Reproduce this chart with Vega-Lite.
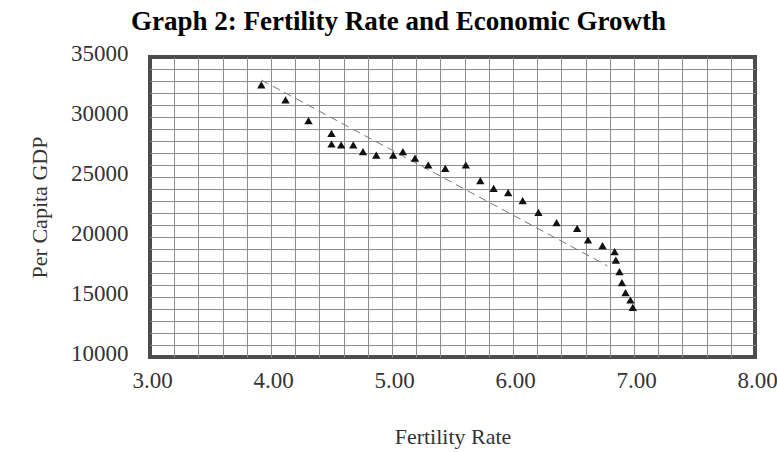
{
  "$schema": "https://vega.github.io/schema/vega-lite/v6.json",
  "width": 605,
  "height": 300,
  "autosize": {"type": "none"},
  "padding": {"left": 150, "top": 57, "right": 22, "bottom": 95},
  "background": "white",
  "title": {
    "text": "Graph 2:  Fertility Rate and Economic Growth",
    "font": "Liberation Serif",
    "fontSize": 27,
    "fontWeight": "bold",
    "color": "#000000",
    "anchor": "middle",
    "dx": -54,
    "offset": 6
  },
  "data": {
    "values": [
      {"kind": "trend", "fertility": 3.92, "gdp": 33080},
      {"kind": "trend", "fertility": 6.78, "gdp": 17600},
      {"kind": "obs", "fertility": 3.92, "gdp": 32670},
      {"kind": "obs", "fertility": 4.12, "gdp": 31420},
      {"kind": "obs", "fertility": 4.31, "gdp": 29690},
      {"kind": "obs", "fertility": 4.50, "gdp": 28640},
      {"kind": "obs", "fertility": 4.50, "gdp": 27750},
      {"kind": "obs", "fertility": 4.58, "gdp": 27670},
      {"kind": "obs", "fertility": 4.68, "gdp": 27670},
      {"kind": "obs", "fertility": 4.76, "gdp": 27110},
      {"kind": "obs", "fertility": 4.87, "gdp": 26830},
      {"kind": "obs", "fertility": 5.01, "gdp": 26830},
      {"kind": "obs", "fertility": 5.09, "gdp": 27110},
      {"kind": "obs", "fertility": 5.19, "gdp": 26580},
      {"kind": "obs", "fertility": 5.30, "gdp": 26000},
      {"kind": "obs", "fertility": 5.44, "gdp": 25720},
      {"kind": "obs", "fertility": 5.61, "gdp": 26000},
      {"kind": "obs", "fertility": 5.73, "gdp": 24690},
      {"kind": "obs", "fertility": 5.84, "gdp": 24060},
      {"kind": "obs", "fertility": 5.96, "gdp": 23690},
      {"kind": "obs", "fertility": 6.08, "gdp": 23030},
      {"kind": "obs", "fertility": 6.21, "gdp": 22060},
      {"kind": "obs", "fertility": 6.36, "gdp": 21190},
      {"kind": "obs", "fertility": 6.53, "gdp": 20720},
      {"kind": "obs", "fertility": 6.62, "gdp": 19750},
      {"kind": "obs", "fertility": 6.74, "gdp": 19280},
      {"kind": "obs", "fertility": 6.84, "gdp": 18780},
      {"kind": "obs", "fertility": 6.85, "gdp": 18080},
      {"kind": "obs", "fertility": 6.88, "gdp": 17110},
      {"kind": "obs", "fertility": 6.90, "gdp": 16190},
      {"kind": "obs", "fertility": 6.93, "gdp": 15360},
      {"kind": "obs", "fertility": 6.97, "gdp": 14750},
      {"kind": "obs", "fertility": 6.99, "gdp": 14140}
    ]
  },
  "encoding": {
    "x": {
      "field": "fertility",
      "type": "quantitative",
      "scale": {"domain": [3, 8], "nice": false, "zero": false},
      "axis": {
        "values": [3, 3.2, 3.4, 3.6, 3.8, 4, 4.2, 4.4, 4.6, 4.8, 5, 5.2, 5.4, 5.6, 5.8, 6, 6.2, 6.4, 6.6, 6.8, 7, 7.2, 7.4, 7.6, 7.8, 8],
        "labelExpr": "datum.value == round(datum.value) ? format(datum.value, '.2f') : ''",
        "labelOverlap": false,
        "labelFlush": false,
        "labelFont": "Liberation Serif",
        "labelFontSize": 23,
        "labelColor": "#333333",
        "labelPadding": 12,
        "labelOffset": 2,
        "ticks": false,
        "domain": false,
        "grid": true,
        "gridColor": "#8c8c8c",
        "gridWidth": 1,
        "gridOpacity": {"condition": {"test": "datum.value == 3 || datum.value == 8", "value": 0}, "value": 1},
        "title": "Fertility Rate",
        "titleFont": "Liberation Serif",
        "titleFontSize": 22,
        "titleFontWeight": "normal",
        "titleColor": "#333333",
        "titlePadding": 34
      }
    },
    "y": {
      "field": "gdp",
      "type": "quantitative",
      "scale": {"domain": [10000, 35000], "nice": false, "zero": false},
      "axis": {
        "values": [10000, 11000, 12000, 13000, 14000, 15000, 16000, 17000, 18000, 19000, 20000, 21000, 22000, 23000, 24000, 25000, 26000, 27000, 28000, 29000, 30000, 31000, 32000, 33000, 34000, 35000],
        "labelExpr": "datum.value % 5000 == 0 ? format(datum.value, 'd') : ''",
        "labelOverlap": false,
        "labelFlush": false,
        "labelFont": "Liberation Serif",
        "labelFontSize": 23,
        "labelColor": "#333333",
        "labelPadding": 22,
        "labelOffset": -4,
        "ticks": false,
        "domain": false,
        "grid": true,
        "gridColor": "#8c8c8c",
        "gridWidth": 1,
        "gridOpacity": {"condition": {"test": "datum.value == 10000 || datum.value == 35000", "value": 0}, "value": 1},
        "title": "Per Capita GDP",
        "titleFont": "Liberation Serif",
        "titleFontSize": 22,
        "titleFontWeight": "normal",
        "titleColor": "#333333",
        "titlePadding": 19
      }
    }
  },
  "layer": [
    {
      "transform": [{"filter": "datum.kind == 'trend'"}],
      "mark": {"type": "line", "color": "#777777", "strokeWidth": 1, "strokeDash": [8, 5]}
    },
    {
      "transform": [{"filter": "datum.kind == 'obs'"}],
      "mark": {"type": "point", "shape": "triangle-up", "filled": true, "color": "#111111", "size": 70, "opacity": 1}
    }
  ],
  "config": {
    "view": {"stroke": "#4d4d4d", "strokeWidth": 4}
  }
}
